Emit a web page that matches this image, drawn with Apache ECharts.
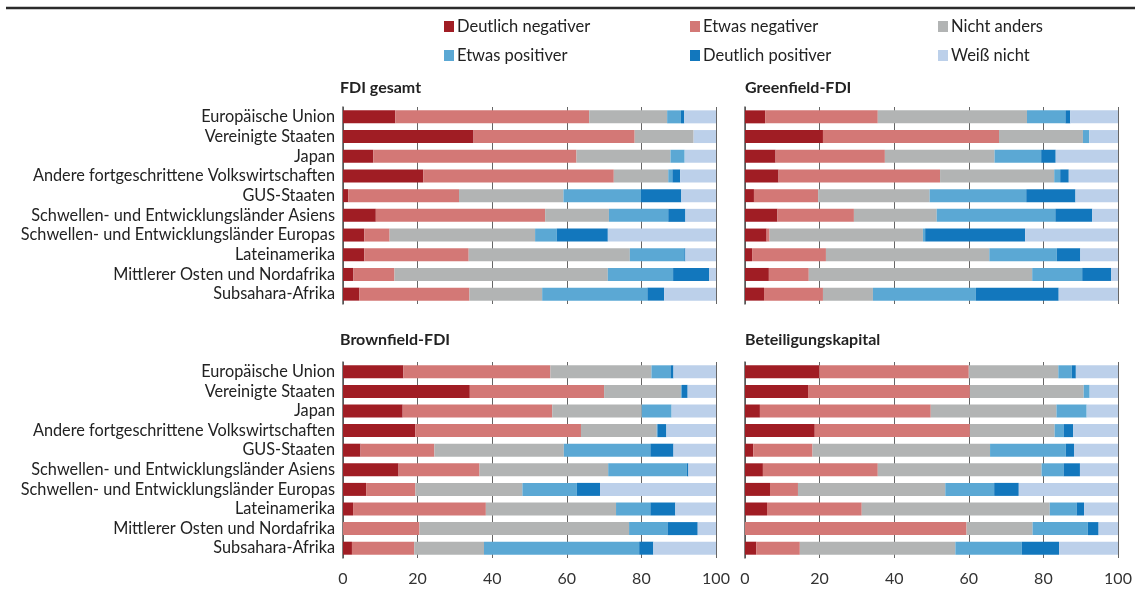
<!DOCTYPE html>
<html><head><meta charset="utf-8">
<script src="https://cdn.jsdelivr.net/npm/echarts@6/dist/echarts.min.js"></script>
<style>html,body{margin:0;padding:0;background:#fff}#c{width:1135px;height:592px}</style>
</head><body><div id="c"></div>
<script>
const categories = ["Europäische Union","Vereinigte Staaten","Japan","Andere fortgeschrittene Volkswirtschaften","GUS-Staaten","Schwellen- und Entwicklungsländer Asiens","Schwellen- und Entwicklungsländer Europas","Lateinamerika","Mittlerer Osten und Nordafrika","Subsahara-Afrika"];
const seriesNames = ["Deutlich negativer","Etwas negativer","Nicht anders","Etwas positiver","Deutlich positiver","Weiß nicht"];
const panelTitles = ["FDI gesamt","Greenfield-FDI","Brownfield-FDI","Beteiligungskapital"];
const xTicks = [0,20,40,60,80,100];

// FDI gesamt
const gesamtDN = [14.0,35.0,8.1,21.5,1.4,8.8,5.7,5.7,2.8,4.4];
const gesamtEN = [52.0,43.2,54.5,51.1,29.7,45.4,6.8,28.0,11.0,29.5];
const gesamtNA = [20.9,15.8,25.2,14.6,28.0,17.1,39.0,43.2,57.2,19.5];
const gesamtEP = [3.7,0,3.8,1.1,20.8,15.9,5.8,14.6,17.5,28.2];
const gesamtDP = [0.9,0,0,2.1,10.8,4.6,13.7,0.3,9.7,4.5];
const gesamtWN = [8.5,6.0,8.4,9.6,9.3,8.2,29.0,8.2,1.8,13.9];
// Greenfield-FDI
const greenDN = [5.4,20.9,8.2,9.0,2.4,8.7,5.8,1.9,6.4,5.1];
const greenEN = [30.2,47.2,29.3,43.3,17.2,20.5,0.8,19.8,10.7,15.8];
const greenNA = [40.0,22.5,29.4,30.6,29.9,22.2,41.1,43.8,59.9,13.4];
const greenEP = [10.3,1.7,12.5,1.6,25.9,31.8,0.6,18.1,13.4,27.6];
const greenDP = [1.3,0,3.9,2.3,13.2,9.9,26.8,6.3,7.8,22.2];
const greenWN = [12.8,7.7,16.7,13.2,11.4,6.9,24.9,10.1,1.8,15.9];
// Brownfield-FDI
const brownDN = [16.2,34.0,16.0,19.4,4.7,14.9,6.2,2.7,0,2.4];
const brownEN = [39.4,36.0,40.1,44.4,19.8,21.7,13.2,35.6,20.5,16.7];
const brownNA = [27.1,20.6,24.0,20.3,34.7,34.5,28.7,34.9,56.2,18.7];
const brownEP = [5.1,0.2,8.0,0.2,23.2,21.1,14.6,9.2,10.3,41.6];
const brownDP = [0.8,1.6,0,2.4,6.2,0.4,6.2,6.7,8.1,3.8];
const brownWN = [11.4,7.6,11.9,13.3,11.4,7.4,31.1,10.9,4.9,16.8];
// Beteiligungskapital
const equityDN = [19.9,16.9,4.0,18.7,2.2,4.8,6.7,5.9,0,3.0];
const equityEN = [40.1,43.4,45.8,41.6,15.9,30.8,7.5,25.4,59.4,11.7];
const equityNA = [24.0,30.5,33.7,22.7,47.6,43.9,39.5,50.4,17.7,41.7];
const equityEP = [3.6,1.6,8.1,2.4,20.3,5.9,13.1,7.2,14.8,17.8];
const equityDP = [1.1,0,0,2.6,2.2,4.4,6.6,2.0,2.9,10.0];
const equityWN = [11.3,7.6,8.4,12.0,11.8,10.2,26.6,9.1,5.2,15.8];

const panels = [
  [gesamtDN,gesamtEN,gesamtNA,gesamtEP,gesamtDP,gesamtWN],
  [greenDN,greenEN,greenNA,greenEP,greenDP,greenWN],
  [brownDN,brownEN,brownNA,brownEP,brownDP,brownWN],
  [equityDN,equityEN,equityNA,equityEP,equityDP,equityWN]
];
const colors = ["#a01d24","#d37876","#b2b4b4","#5ba8d4","#1277bd","#bcd0ea"];
const FONT = "Lato";

const grids = [
  {left:343, top:107, width:373, height:197},
  {left:745, top:107, width:373, height:197},
  {left:343, top:362, width:373, height:196},
  {left:745, top:362, width:373, height:196}
];
const xAxes = [], yAxes = [], series = [];
grids.forEach((g,i)=>{
  const bottom = i>=2;
  xAxes.push({
    type:'value', gridIndex:i, min:0, max:100, interval:20,
    axisLine:{show:false}, axisTick:{show:false},
    splitLine:{show:true, lineStyle:{color:'#666', width:1}},
    axisLabel:{show:bottom, color:'#333', fontFamily:FONT, fontSize:16, margin:13,
      formatter:v=>xTicks.includes(v)?String(v):''}
  });
  yAxes.push({
    type:'category', gridIndex:i, data:categories, inverse:true,
    axisLine:{show:true, lineStyle:{color:'#555', width:1.5}}, axisTick:{show:false},
    axisLabel:{show:i%2===0, interval:0, color:'#222', fontFamily:FONT, fontSize:16.3, margin:8}
  });
  panels[i].forEach((arr,k)=>{
    series.push({
      type:'bar', name:seriesNames[k], xAxisIndex:i, yAxisIndex:i, stack:'s'+i,
      data:arr, barWidth:13, itemStyle:{color:colors[k]}, silent:true, animation:false
    });
  });
});

const legendPos = [[444,18],[690,18],[938,18],[444,47],[690,47],[938,47]];
const legends = seriesNames.map((n,k)=>({
  data:[n], left:legendPos[k][0], top:legendPos[k][1], itemWidth:10, itemHeight:11,
  icon:'rect', itemGap:0, padding:0, selectedMode:false,
  textStyle:{fontFamily:FONT, fontSize:16.5, color:'#222', padding:[0,0,0,-2]}
}));

const titlePos = [[340,80],[745,80],[340,332],[745,332]];
const titles = panelTitles.map((t,i)=>({
  text:t, left:titlePos[i][0], top:titlePos[i][1], padding:0,
  textStyle:{fontFamily:FONT, fontSize:16, fontWeight:'bold', color:'#222'}
}));

const chart = echarts.init(document.getElementById('c'), null, {renderer:'canvas'});
chart.setOption({
  animation:false,
  color:colors,
  title:titles,
  legend:legends,
  grid:grids,
  xAxis:xAxes,
  yAxis:yAxes,
  series:series,
  graphic:[{type:'line', shape:{x1:6,y1:8,x2:1135,y2:8}, style:{stroke:'#2b2b2b', lineWidth:2.5}}]
});
</script></body></html>
